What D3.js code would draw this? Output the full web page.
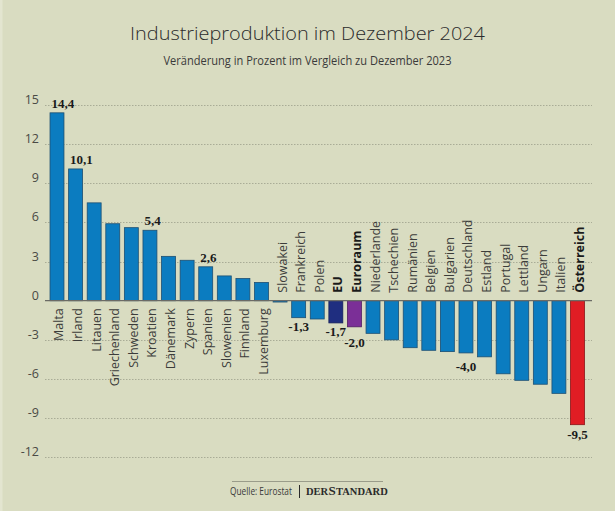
<!DOCTYPE html>
<html>
<head>
<meta charset="utf-8">
<script src="https://cdn.jsdelivr.net/npm/d3@7"></script>
<style>
  html, body { margin: 0; padding: 0; background: #d9dcc1; }
  svg { display: block; }
</style>
</head>
<body>
<svg id="chart" width="615" height="511"></svg>
<script>
const countries = ["Malta","Irland","Litauen","Griechenland","Schweden","Kroatien","Dänemark","Zypern","Spanien","Slowenien","Finnland","Luxemburg","Slowakei","Frankreich","Polen","EU","Euroraum","Niederlande","Tschechien","Rumänien","Belgien","Bulgarien","Deutschland","Estland","Portugal","Lettland","Ungarn","Italien","Österreich"];
const values = [14.4,10.1,7.5,5.9,5.6,5.4,3.4,3.1,2.6,1.9,1.7,1.4,-0.1,-1.3,-1.4,-1.7,-2.0,-2.5,-3.0,-3.6,-3.8,-3.9,-4.0,-4.3,-5.6,-6.1,-6.4,-7.1,-9.5];
const labelled = ["Malta","Irland","Kroatien","Spanien","Frankreich","EU","Euroraum","Deutschland","Österreich"];
const highlighted = ["EU","Euroraum","Österreich"];
const yTicks = [15,12,9,6,3,0,-3,-6,-9,-12];
const title = "Industrieproduktion im Dezember 2024";
const subtitle = "Veränderung in Prozent im Vergleich zu Dezember 2023";
const source = "Quelle: Eurostat";
const brandParts = ["DER", "S", "TANDARD"];

const colors = { default: "#0b7cc0", EU: "#1f2e80", Euroraum: "#7b2f97", "Österreich": "#e01d24" };
const strokes = { default: "#1d4f72", EU: "#16205a", Euroraum: "#4f1d63", "Österreich": "#8a1418" };
const nudge = { Euroraum: 7, Deutschland: 5, "Österreich": 1.5 };

const svg = d3.select("#chart");
const W = 615, H = 511;
svg.append("rect").attr("width", W).attr("height", H).attr("fill", "#d9dcc1");
svg.append("rect").attr("x", 0).attr("y", 0).attr("width", 2.5).attr("height", H).attr("fill", "#e3e5d0");

const fmt = v => d3.format(".1f")(v).replace(".", ",").replace("−", "-");

// title
svg.append("text").attr("x", 307.5).attr("y", 40).attr("text-anchor", "middle")
  .attr("font-family", "'Open Sans', sans-serif").attr("font-weight", 300).attr("font-size", 19)
  .attr("fill", "#2b2b2b").attr("textLength", 355).attr("lengthAdjust", "spacingAndGlyphs")
  .text(title);
svg.append("text").attr("x", 307.5).attr("y", 64.5).attr("text-anchor", "middle")
  .attr("font-family", "'Open Sans', sans-serif").attr("font-weight", 400).attr("font-size", 12)
  .attr("fill", "#3a3a3a").attr("textLength", 288).attr("lengthAdjust", "spacingAndGlyphs")
  .text(subtitle);

const y = d3.scaleLinear().domain([-12, 15]).range([457.3, 105]);
const x = d3.scaleBand().domain(countries).range([47.7, 586.8]).paddingInner(0.25).paddingOuter(0.125);

// grid
const gx0 = 45, gx1 = 592;
svg.append("g").selectAll("line").data(yTicks.filter(t => t !== 0)).join("line")
  .attr("x1", gx0).attr("x2", gx1)
  .attr("y1", d => Math.round(y(d)) + 0.5).attr("y2", d => Math.round(y(d)) + 0.5)
  .attr("stroke", "#a9ac96").attr("stroke-width", 1).attr("stroke-dasharray", "1.5,1.5");

// y tick labels
svg.append("g").selectAll("text").data(yTicks).join("text")
  .attr("x", 39).attr("y", d => y(d) - 1)
  .attr("text-anchor", "end")
  .attr("font-family", "'Open Sans', sans-serif").attr("font-size", 12.5)
  .attr("fill", "#4a4a45")
  .text(d => d < 0 ? "-" + Math.abs(d) : d);

// bars
const data = countries.map((c, i) => ({ c, v: values[i] }));
svg.append("g").selectAll("rect").data(data).join("rect")
  .attr("x", d => x(d.c))
  .attr("width", x.bandwidth())
  .attr("y", d => y(Math.max(0, d.v)))
  .attr("height", d => Math.abs(y(d.v) - y(0)))
  .attr("fill", d => colors[d.c] || colors.default)
  .attr("stroke", d => strokes[d.c] || strokes.default)
  .attr("stroke-width", 0.8);

// zero line
svg.append("line").attr("x1", gx0).attr("x2", gx1)
  .attr("y1", y(0)).attr("y2", y(0))
  .attr("stroke", "#6b6b66").attr("stroke-width", 1.2);

// category labels
svg.append("g").selectAll("text").data(data).join("text")
  .attr("transform", d => {
    const cx = x(d.c) + x.bandwidth() / 2 + 6.5;
    const yy = d.v >= 0 ? y(0) + 7.5 : y(0) - 8;
    return `translate(${cx},${yy}) rotate(-90)`;
  })
  .attr("text-anchor", d => d.v >= 0 ? "end" : "start")
  .attr("font-family", "'Open Sans', sans-serif")
  .attr("font-size", 12.5)
  .attr("font-weight", d => highlighted.includes(d.c) ? 700 : 400)
  .attr("fill", d => highlighted.includes(d.c) ? "#1a1a1a" : "#3c3c3a")
  .text(d => d.c);

// value labels
svg.append("g").selectAll("text").data(data.filter(d => labelled.includes(d.c))).join("text")
  .attr("x", d => d.v >= 0 ? x(d.c) + 1.5 : x(d.c) + x.bandwidth() / 2)
  .attr("y", d => d.v >= 0 ? y(d.v) - 5 : y(d.v) + 13 + (nudge[d.c] || 0))
  .attr("text-anchor", d => d.v >= 0 ? "start" : "middle")
  .attr("font-family", "'Liberation Serif', 'DejaVu Serif', serif")
  .attr("font-weight", 700).attr("font-size", 13)
  .attr("fill", "#1a1a1a")
  .text(d => fmt(d.v));

// footer
svg.append("line").attr("x1", 232).attr("x2", 383).attr("y1", 481.5).attr("y2", 481.5)
  .attr("stroke", "#8a8c7c").attr("stroke-width", 0.8);
const src = svg.append("text")
  .attr("font-family", "'Open Sans', sans-serif").attr("font-size", 10.5).attr("fill", "#3a3a3a")
  .text(source);
const srcLen = src.node().getComputedTextLength();
src.attr("transform", `translate(230,495) scale(${62 / srcLen},1)`);
svg.append("line").attr("x1", 299.5).attr("x2", 299.5).attr("y1", 485).attr("y2", 498)
  .attr("stroke", "#2a2a2a").attr("stroke-width", 1);
let bx = 306;
brandParts.forEach((p, i) => {
  const t = svg.append("text").attr("x", bx).attr("y", 495)
    .attr("font-family", "'Liberation Serif', serif").attr("font-weight", 700)
    .attr("font-size", i === 1 ? 13 : 10.5).attr("fill", "#2a2a2a")
    .text(p);
  bx += t.node().getComputedTextLength() + 0.3;
});
</script>
</body>
</html>
